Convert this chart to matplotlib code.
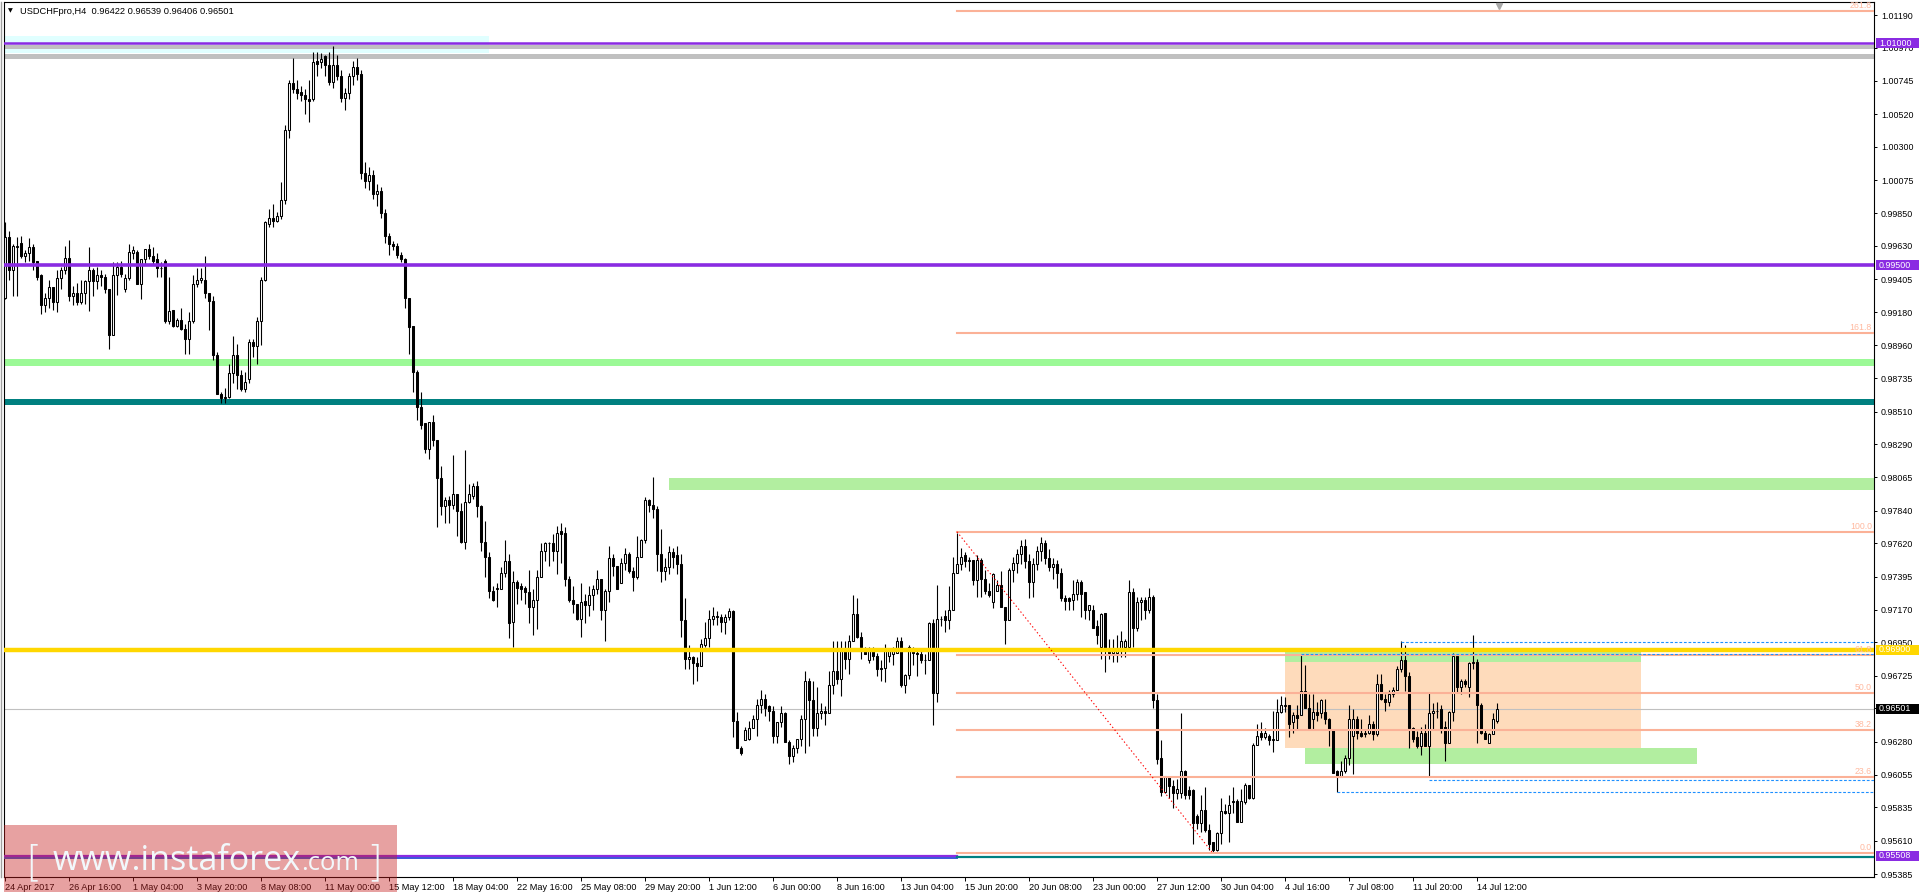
import numpy as np
import matplotlib
matplotlib.use("Agg")
import matplotlib.pyplot as plt
from matplotlib.patches import Rectangle
from matplotlib.lines import Line2D
from matplotlib.transforms import blended_transform_factory

# ---- USDCHFpro H4 candles ----
opens = [
    .9928, .9969, .9947, .9962, .9965, .9956, .9958, .9962, .9953, .9943,
    .9923, .9928, .9935, .9925, .9941, .9947, .9955, .9929, .9931, .9925,
    .9931, .9939, .9947, .9939, .9943, .9942, .9934, .9903, .9943, .9949,
    .9934, .9941, .9958, .9959, .9937, .9954, .9961, .9956, .9954, .9948,
    .9953, .9912, .9920, .9909, .9913, .9907, .9900, .9912, .9937, .9940,
    .9940, .9931, .9926, .9889, .9863, .9860, .9861, .9877, .9889, .9876,
    .9866, .9873, .9898, .9895, .9912, .9940, .9978, .9982, .9980, .9983,
    .9994, 1.0041, 1.0073, 1.0069, 1.0067, 1.0065, 1.0062, 1.0062, 1.0088, 1.0087,
    1.0091, 1.0085, 1.0074, 1.0085, 1.0078, 1.0063, 1.0066, 1.0078, 1.0084, 1.0079,
    1.0012, 1.0007, 1.0011, .9998, 1.0000, .9985, .9970, .9964, .9963, .9957,
    .9954, .9928, .9909, .9878, .9854, .9843, .9826, .9844, .9832, .9806,
    .9787, .9791, .9788, .9795, .9784, .9763, .9790, .9794, .9801, .9787,
    .9763, .9753, .9730, .9731, .9731, .9742, .9750, .9709, .9736, .9733,
    .9732, .9729, .9719, .9724, .9739, .9757, .9762, .9762, .9757, .9770,
    .9769, .9738, .9724, .9721, .9711, .9723, .9720, .9727, .9731, .9738,
    .9717, .9730, .9752, .9747, .9735, .9749, .9755, .9743, .9739, .9753,
    .9764, .9791, .9788, .9785, .9755, .9743, .9746, .9756, .9754, .9748,
    .9710, .9684, .9685, .9681, .9679, .9693, .9698, .9711, .9713, .9712,
    .9709, .9712, .9716, .9642, .9624, .9629, .9630, .9637, .9643, .9653,
    .9657, .9652, .9649, .9632, .9641, .9647, .9628, .9618, .9624, .9630,
    .9643, .9669, .9656, .9637, .9647, .9649, .9647, .9666, .9676, .9670,
    .9691, .9684, .9696, .9714, .9699, .9690, .9683, .9689, .9686, .9678,
    .9678, .9686, .9687, .9688, .9696, .9666, .9673, .9689, .9688, .9687,
    .9683, .9683, .9708, .9661, .9711, .9713, .9710, .9717, .9742, .9748,
    .9754, .9750, .9751, .9737, .9751, .9738, .9730, .9722, .9730, .9734,
    .9719, .9710, .9744, .9749, .9755, .9760, .9750, .9736, .9748, .9757,
    .9762, .9752, .9746, .9748, .9742, .9725, .9725, .9724, .9728, .9736,
    .9729, .9717, .9717, .9706, .9692, .9715, .9690, .9688, .9688, .9689,
    .9692, .9692, .9729, .9705, .9722, .9724, .9717, .9726, .9656, .9617,
    .9594, .9604, .9598, .9593, .9593, .9608, .9595, .9595, .9578, .9573,
    .9582, .9568, .9560, .9555, .9566, .9581, .9580, .9588, .9588, .9574,
    .9587, .9599, .9590, .9626, .9634, .9631, .9632, .9629, .9629, .9648,
    .9652, .9653, .9641, .9646, .9646, .9662, .9651, .9643, .9648, .9647,
    .9648, .9643, .9636, .9608, .9604, .9608, .9617, .9632, .9643, .9634,
    .9633, .9634, .9640, .9633, .9667, .9657, .9655, .9660, .9663, .9677,
    .9683, .9672, .9637, .9631, .9625, .9634, .9625, .9647, .9649, .9650,
    .9638, .9627, .9648, .9686, .9665, .9669, .9665, .9681, .9682, .9653,
    .9634, .9627, .9633, .96422,
]
highs = [
    .9979, .9973, .9964, .9969, .9970, .9960, .9968, .9964, .9953, .9944,
    .9931, .9940, .9935, .9947, .9949, .9963, .9967, .9936, .9938, .9940,
    .9940, .9962, .9948, .9949, .9947, .9944, .9934, .9952, .9952, .9953,
    .9944, .9964, .9963, .9960, .9954, .9961, .9964, .9962, .9958, .9952,
    .9954, .9942, .9920, .9914, .9921, .9910, .9918, .9943, .9948, .9948,
    .9956, .9931, .9929, .9891, .9864, .9867, .9883, .9902, .9897, .9879,
    .9878, .9900, .9900, .9915, .9942, .9980, .9988, .9991, .9986, 1.0006,
    1.0045, 1.0075, 1.0090, 1.0075, 1.0071, 1.0069, 1.0075, 1.0094, 1.0094, 1.0093,
    1.0092, 1.0094, 1.0098, 1.0092, 1.0082, 1.0070, 1.0080, 1.0088, 1.0090, 1.0082,
    1.0020, 1.0016, 1.0014, 1.0005, 1.0003, .9988, .9972, .9966, .9965, .9959,
    .9955, .9928, .9909, .9879, .9864, .9843, .9844, .9849, .9832, .9814,
    .9793, .9794, .9822, .9795, .9789, .9825, .9802, .9803, .9804, .9788,
    .9777, .9756, .9733, .9735, .9746, .9764, .9755, .9743, .9737, .9735,
    .9733, .9744, .9731, .9744, .9762, .9763, .9763, .9768, .9774, .9776,
    .9773, .9740, .9733, .9721, .9735, .9728, .9733, .9734, .9744, .9738,
    .9731, .9760, .9755, .9747, .9752, .9759, .9756, .9746, .9767, .9765,
    .9793, .9792, .9807, .9787, .9772, .9752, .9760, .9759, .9760, .9755,
    .9725, .9693, .9686, .9685, .9697, .9709, .9717, .9719, .9716, .9714,
    .9714, .9718, .9717, .9648, .9625, .9638, .9642, .9646, .9657, .9663,
    .9660, .9653, .9652, .9641, .9652, .9648, .9629, .9626, .9630, .9646,
    .9676, .9671, .9669, .9665, .9654, .9652, .9676, .9696, .9696, .9696,
    .9696, .9700, .9727, .9725, .9702, .9692, .9692, .9692, .9688, .9683,
    .9694, .9691, .9692, .9699, .9699, .9674, .9693, .9692, .9690, .9690,
    .9687, .9709, .9711, .9734, .9713, .9717, .9733, .9753, .9769, .9759,
    .9756, .9753, .9751, .9754, .9752, .9744, .9735, .9742, .9737, .9743,
    .9719, .9745, .9753, .9758, .9764, .9765, .9755, .9752, .9760, .9766,
    .9764, .9758, .9752, .9751, .9745, .9727, .9726, .9737, .9738, .9737,
    .9729, .9720, .9720, .9710, .9715, .9715, .9697, .9697, .9700, .9703,
    .9697, .9737, .9732, .9726, .9726, .9726, .9732, .9727, .9660, .9629,
    .9605, .9605, .9602, .9603, .9647, .9609, .9598, .9596, .9579, .9592,
    .9597, .9572, .9560, .9567, .9590, .9586, .9592, .9597, .9589, .9596,
    .9600, .9599, .9627, .9640, .9641, .9637, .9633, .9649, .9657, .9659,
    .9658, .9653, .9648, .9653, .9687, .9680, .9660, .9660, .9655, .9657,
    .9657, .9644, .9636, .9609, .9615, .9619, .9653, .9650, .9645, .9643,
    .9636, .9646, .9642, .9674, .9674, .9660, .9663, .9665, .9679, .9696,
    .9693, .9675, .9638, .9635, .9638, .9640, .9661, .9654, .9655, .9653,
    .9642, .9649, .9688, .9686, .9670, .9670, .9682, .9700, .9684, .9654,
    .9636, .9634, .9647, .96539,
]
lows = [
    .9927, .9940, .9929, .9929, .9955, .9952, .9953, .9947, .9940, .9917,
    .9918, .9921, .9920, .9918, .9934, .9944, .9926, .9923, .9923, .9924,
    .9924, .9919, .9929, .9934, .9936, .9931, .9893, .9903, .9930, .9942,
    .9932, .9940, .9954, .9937, .9927, .9951, .9954, .9951, .9942, .9942,
    .9911, .9910, .9908, .9908, .9906, .9890, .9890, .9911, .9935, .9938,
    .9928, .9906, .9886, .9863, .9857, .9857, .9860, .9870, .9866, .9865,
    .9864, .9870, .9888, .9883, .9896, .9939, .9976, .9976, .9979, .9981,
    .9991, 1.0036, 1.0066, 1.0062, 1.0061, 1.0052, 1.0047, 1.0061, 1.0078, 1.0083,
    1.0078, 1.0072, 1.0070, 1.0075, 1.0060, 1.0055, 1.0062, 1.0072, 1.0075, 1.0008,
    1.0002, 1.0001, .9995, .9990, .9982, .9965, .9957, .9960, .9955, .9952,
    .9921, .9890, .9864, .9845, .9839, .9823, .9819, .9828, .9773, .9781,
    .9776, .9776, .9785, .9767, .9762, .9758, .9789, .9792, .9780, .9757,
    .9739, .9725, .9723, .9719, .9731, .9739, .9698, .9692, .9721, .9724,
    .9721, .9708, .9700, .9704, .9739, .9750, .9747, .9750, .9741, .9749,
    .9733, .9722, .9715, .9710, .9699, .9708, .9713, .9717, .9728, .9710,
    .9696, .9722, .9740, .9731, .9735, .9744, .9742, .9730, .9738, .9753,
    .9762, .9783, .9779, .9743, .9736, .9737, .9741, .9745, .9741, .9699,
    .9677, .9677, .9667, .9669, .9679, .9692, .9692, .9707, .9707, .9702,
    .9701, .9710, .9631, .9624, .9619, .9629, .9629, .9637, .9632, .9647,
    .9645, .9642, .9627, .9627, .9638, .9628, .9613, .9614, .9620, .9625,
    .9620, .9625, .9632, .9632, .9643, .9639, .9647, .9660, .9667, .9659,
    .9677, .9674, .9696, .9698, .9684, .9687, .9681, .9683, .9672, .9669,
    .9668, .9682, .9680, .9688, .9665, .9661, .9670, .9680, .9672, .9681,
    .9674, .9683, .9639, .9655, .9706, .9702, .9704, .9717, .9742, .9744,
    .9746, .9743, .9734, .9726, .9726, .9728, .9726, .9718, .9730, .9719,
    .9694, .9710, .9736, .9742, .9748, .9745, .9725, .9726, .9744, .9750,
    .9748, .9743, .9738, .9732, .9723, .9717, .9717, .9717, .9724, .9712,
    .9711, .9710, .9705, .9694, .9684, .9675, .9684, .9682, .9682, .9685,
    .9685, .9692, .9692, .9703, .9710, .9711, .9715, .9651, .9613, .9591,
    .9593, .9590, .9583, .9589, .9590, .9589, .9589, .9559, .9569, .9567,
    .9567, .9555, .9553, .9554, .9559, .9579, .9560, .9580, .9574, .9574,
    .9586, .9589, .9589, .9626, .9629, .9630, .9626, .9621, .9629, .9647,
    .9648, .9631, .9634, .9636, .9646, .9651, .9637, .9636, .9642, .9644,
    .9640, .9625, .9607, .9594, .9604, .9607, .9612, .9606, .9630, .9631,
    .9631, .9633, .9629, .9632, .9656, .9649, .9652, .9658, .9663, .9675,
    .9662, .9624, .9628, .9624, .9619, .9625, .9604, .9636, .9644, .9634,
    .9615, .9627, .9642, .9661, .9660, .9665, .9658, .9677, .9627, .9633,
    .9630, .9627, .9633, .96406,
]
closes = [
    .9969, .9947, .9963, .9963, .9956, .9958, .9962, .9952, .9942, .9923,
    .9928, .9935, .9925, .9941, .9947, .9955, .9929, .9931, .9925, .9931,
    .9939, .9947, .9939, .9943, .9942, .9934, .9903, .9943, .9949, .9944,
    .9941, .9959, .9960, .9937, .9954, .9961, .9956, .9953, .9948, .9948,
    .9912, .9919, .9909, .9913, .9907, .9900, .9912, .9937, .9940, .9941,
    .9931, .9926, .9889, .9863, .9860, .9861, .9877, .9889, .9876, .9866,
    .9871, .9898, .9895, .9912, .9940, .9979, .9982, .9980, .9983, .9994,
    1.0041, 1.0073, 1.0069, 1.0066, 1.0065, 1.0062, 1.0061, 1.0087, 1.0086, 1.0089,
    1.0085, 1.0074, 1.0085, 1.0078, 1.0063, 1.0066, 1.0078, 1.0084, 1.0079, 1.0012,
    1.0007, 1.0011, .9998, 1.0000, .9985, .9970, .9964, .9963, .9957, .9954,
    .9928, .9908, .9878, .9854, .9842, .9826, .9844, .9832, .9806, .9787,
    .9791, .9788, .9795, .9784, .9763, .9790, .9795, .9801, .9787, .9763,
    .9753, .9730, .9724, .9732, .9742, .9750, .9708, .9736, .9732, .9731,
    .9729, .9719, .9724, .9739, .9757, .9762, .9762, .9757, .9769, .9768,
    .9738, .9724, .9721, .9711, .9722, .9720, .9727, .9731, .9738, .9717,
    .9730, .9752, .9747, .9731, .9749, .9755, .9743, .9739, .9753, .9764,
    .9791, .9788, .9785, .9755, .9743, .9746, .9756, .9753, .9748, .9710,
    .9684, .9685, .9681, .9679, .9694, .9698, .9711, .9713, .9712, .9709,
    .9712, .9716, .9642, .9624, .9620, .9636, .9637, .9643, .9653, .9657,
    .9651, .9649, .9632, .9641, .9647, .9628, .9618, .9624, .9630, .9643,
    .9669, .9656, .9637, .9647, .9649, .9647, .9666, .9676, .9670, .9690,
    .9684, .9696, .9714, .9699, .9692, .9687, .9690, .9686, .9677, .9677,
    .9689, .9689, .9689, .9696, .9666, .9673, .9692, .9688, .9687, .9683,
    .9683, .9708, .9661, .9711, .9711, .9710, .9717, .9742, .9748, .9753,
    .9750, .9751, .9737, .9751, .9738, .9730, .9727, .9741, .9734, .9719,
    .9710, .9744, .9749, .9755, .9760, .9750, .9736, .9748, .9757, .9762,
    .9752, .9746, .9748, .9742, .9725, .9723, .9723, .9728, .9736, .9728,
    .9717, .9720, .9705, .9700, .9714, .9690, .9688, .9691, .9689, .9696,
    .9696, .9729, .9705, .9722, .9724, .9717, .9726, .9656, .9616, .9594,
    .9605, .9598, .9593, .9596, .9608, .9592, .9592, .9573, .9573, .9582,
    .9568, .9559, .9555, .9566, .9581, .9580, .9585, .9587, .9574, .9588,
    .9599, .9590, .9626, .9632, .9631, .9634, .9629, .9630, .9648, .9653,
    .9653, .9640, .9646, .9644, .9662, .9651, .9637, .9648, .9646, .9656,
    .9643, .9636, .9607, .9604, .9608, .9617, .9643, .9643, .9634, .9632,
    .9634, .9640, .9633, .9667, .9657, .9655, .9660, .9663, .9677, .9683,
    .9672, .9637, .9630, .9625, .9634, .9625, .9647, .9649, .9649, .9636,
    .9627, .9648, .9686, .9665, .9669, .9667, .9681, .9682, .9653, .9634,
    .9630, .9633, .9643, .96501,
]

time_labels = ["24 Apr 2017", "26 Apr 16:00", "1 May 04:00", "3 May 20:00", "8 May 08:00",
               "11 May 00:00", "15 May 12:00", "18 May 04:00", "22 May 16:00", "25 May 08:00",
               "29 May 20:00", "1 Jun 12:00", "6 Jun 00:00", "8 Jun 16:00", "13 Jun 04:00",
               "15 Jun 20:00", "20 Jun 08:00", "23 Jun 00:00", "27 Jun 12:00", "30 Jun 04:00",
               "4 Jul 16:00", "7 Jul 08:00", "11 Jul 20:00", "14 Jul 12:00"]
bars_per_label = 16

price_ticks = [1.01190, 1.00970, 1.00745, 1.00520, 1.00300, 1.00075, 0.99850, 0.99630,
               0.99405, 0.99180, 0.98960, 0.98735, 0.98510, 0.98290, 0.98065, 0.97840,
               0.97620, 0.97395, 0.97170, 0.96950, 0.96725, 0.96505, 0.96280, 0.96055,
               0.95835, 0.95610, 0.95385]

# horizontal levels / zones
level_top = 1.01000
level_mid = 0.99500
level_gold = 0.96900
level_bottom = 0.95508
last_price = 0.96501
gray_bands = [(1.00960, 1.00987), (1.00893, 1.00926)]
cyan_zone = (1.00933, 1.01048, 0, 121)
green_band = (0.98818, 0.98865)
teal_band = (0.98554, 0.98595)
green_zone_2 = (0.97980, 0.98061, 166)
box_zone = (0.96235, 0.96892, 320, 409)
box_top_strip = (0.96817, 0.96892)
green_zone_3 = (0.96128, 0.96235, 325, 423)
dashed_levels = [(0.96953, 349), (0.96872, 324), (0.96020, 356), (0.95939, 333)]

# fibonacci retracement
fib_bar_hi, fib_bar_lo = 238, 302
fib_hi, fib_lo = 0.97698, 0.95525
fib_levels = [0.0, 23.6, 38.2, 50.0, 61.8, 100.0, 161.8, 261.8]

title = "USDCHFpro,H4  0.96422 0.96539 0.96406 0.96501"

# ---- figure ----
W, H = 1920, 894
fig = plt.figure(figsize=(W / 100, H / 100), dpi=100)
ax = fig.add_axes([4 / W, 17 / H, 1870 / W, 875 / H])
xmin, xmax = -0.25, 467.25
ymin, ymax = 0.95365, 1.01278
ax.set_xlim(xmin, xmax)
ax.set_ylim(ymin, ymax)
ppx = (ymax - ymin) / 875.0  # price per pixel

PURPLE = "#8a2be2"
GOLD = "#ffd700"
FIB = "#fbb197"
GREEN1 = "#9bf996"
GREEN2 = "#b2eea0"
TEAL = "#008080"
PEACH = "#fedbbb"
FONT = ["Liberation Sans", "DejaVu Sans"]


def zone(y0, y1, x0=xmin, x1=xmax, color="k", z=1):
    ax.add_patch(Rectangle((x0, y0), x1 - x0, y1 - y0, facecolor=color,
                           edgecolor="none", zorder=z))


zone(cyan_zone[0], cyan_zone[1], cyan_zone[2], cyan_zone[3], "#e0ffff", 0.8)
for lo, hi in gray_bands:
    zone(lo, hi, color="#c0c0c0")
zone(*green_band, color=GREEN1)
zone(*teal_band, color=TEAL)
zone(green_zone_2[0], green_zone_2[1], green_zone_2[2], color=GREEN2)
zone(box_zone[0], box_zone[1], box_zone[2], box_zone[3], PEACH)
zone(box_top_strip[0], box_top_strip[1], box_zone[2], box_zone[3], GREEN2, 1.1)
zone(green_zone_3[0], green_zone_3[1], green_zone_3[2], green_zone_3[3], GREEN2)

ax.axhline(last_price, color="#c0c0c0", lw=0.8, zorder=1.5)

# candles
o = np.array(opens)
c = np.array(closes)
hi = np.maximum(np.array(highs), np.maximum(o, c))
lo = np.minimum(np.array(lows), np.minimum(o, c))
xs = np.arange(len(o))
ax.vlines(xs, lo, hi, color="black", lw=0.8, zorder=2)
bull = c >= o
body_h = np.abs(c - o)
body_h = np.where(body_h < 1e-6, 1e-6, body_h)
ax.bar(xs, body_h, bottom=np.minimum(o, c), width=0.5,
       color=np.where(bull, "white", "black"), edgecolor="black",
       linewidth=0.75, zorder=2.5)

# horizontal lines
ax.axhline(level_top, color=PURPLE, lw=1.8, zorder=3)
ax.axhline(level_mid, color=PURPLE, lw=2.6, zorder=3)
ax.axhline(level_gold, color=GOLD, lw=3.2, zorder=3)
ax.plot([xmin, fib_bar_hi], [level_bottom, level_bottom], color=PURPLE, lw=1.6, zorder=3)
ax.plot([xmin, fib_bar_hi], [level_bottom - 2 * ppx] * 2, color="#3b55d8", lw=1.4, zorder=3)
ax.plot([fib_bar_hi, xmax], [level_bottom - 1 * ppx] * 2, color=TEAL, lw=1.6, zorder=3)

# fibonacci
for lv in fib_levels:
    p = fib_lo + (fib_hi - fib_lo) * lv / 100.0
    ax.plot([fib_bar_hi, xmax], [p, p], color=FIB, lw=1.5, zorder=3.2)
    ax.text(xmax - 0.5, p + 1 * ppx, f"{lv:.1f}", color="#ffb99f", fontsize=6.3,
            family=FONT, ha="right", va="bottom", zorder=3.3, clip_on=True)
ax.plot([fib_bar_hi, fib_bar_lo], [fib_hi, fib_lo], color="red", lw=0.8,
        dashes=(1.2, 2.2), zorder=3.4)

for p, start in dashed_levels:
    ax.plot([start, xmax], [p, p], color="#1e90ff", lw=0.8, dashes=(2.5, 1.6), zorder=3.5)

# shift marker at the top
ax.plot([373.5], [ymax - 4 * ppx], marker="v", ms=5, color="#a8a8a8", zorder=4, clip_on=False)

# axes styling
for s in ax.spines.values():
    s.set_color("black")
    s.set_linewidth(0.8)
ax.set_xticks(np.arange(len(time_labels)) * bars_per_label)
ax.set_xticklabels(time_labels, ha="left", fontsize=6.6, family=FONT)
ax.tick_params(axis="x", direction="out", length=3, width=0.7, pad=1.5)
ax.yaxis.tick_right()
ax.set_yticks(price_ticks)
ax.set_yticklabels([f"{v:.5f}" for v in price_ticks], fontsize=6.4, family=FONT)
ax.tick_params(axis="y", direction="out", length=2.5, width=0.7, pad=2.5)

# right price boxes
bt = blended_transform_factory(fig.transFigure, ax.transData)
for p, fc in [(level_top, PURPLE), (level_mid, PURPLE), (level_gold, GOLD),
              (last_price, "black"), (level_bottom, PURPLE)]:
    r = Rectangle((1876 / W, p - 5 * ppx), 43 / W, 10 * ppx, transform=bt,
                  facecolor=fc, edgecolor="none", clip_on=False, zorder=10)
    ax.add_artist(r)
    ax.text(1879 / W, p, f"{p:.5f}", transform=bt, color="white", fontsize=6.4,
            family=FONT, ha="left", va="center", zorder=11, clip_on=False)

# title
fig.text(8 / W, (H - 11) / H, "\u25bc", fontsize=4.5, va="center", ha="left", family="DejaVu Sans")
fig.text(20 / W, (H - 11) / H, title, fontsize=6.7, va="center", ha="left", family=FONT)

# left window edge
fig.add_artist(Line2D([1 / W, 1 / W], [17 / H, 892 / H], color="#a0a0a0", lw=1))

# watermark
fig.patches.append(Rectangle((4 / W, 2 / H), 393 / W, 67 / H, transform=fig.transFigure,
                             facecolor=(0.78, 0.12, 0.12), alpha=0.42, edgecolor="none",
                             zorder=10))
renderer = fig.canvas.get_renderer()
base = (H - 870) / H
wm_col = "#f2f8fb"
t1 = fig.text(53 / W, base, "www.instaforex", fontsize=30, color=wm_col, family="Open Sans",
              va="baseline", ha="left", zorder=11)
w1 = t1.get_window_extent(renderer).width
t1.set_fontsize(30 * 248 / w1)
x_end = t1.get_window_extent(renderer).x1
t2 = fig.text(x_end / W, base, ".com", fontsize=20, color=wm_col, family="Open Sans",
              va="baseline", ha="left", zorder=11)
w2 = t2.get_window_extent(renderer).width
t2.set_fontsize(20 * 58 / w2)
fig.text(25 / W, (H - 876) / H, "[", fontsize=30, color=wm_col, family="DejaVu Sans",
         fontweight="light", va="baseline", ha="left", zorder=11)
fig.text(366 / W, (H - 876) / H, "]", fontsize=30, color=wm_col, family="DejaVu Sans",
         fontweight="light", va="baseline", ha="left", zorder=11)

fig.savefig("out.png", dpi=100, facecolor="white")
